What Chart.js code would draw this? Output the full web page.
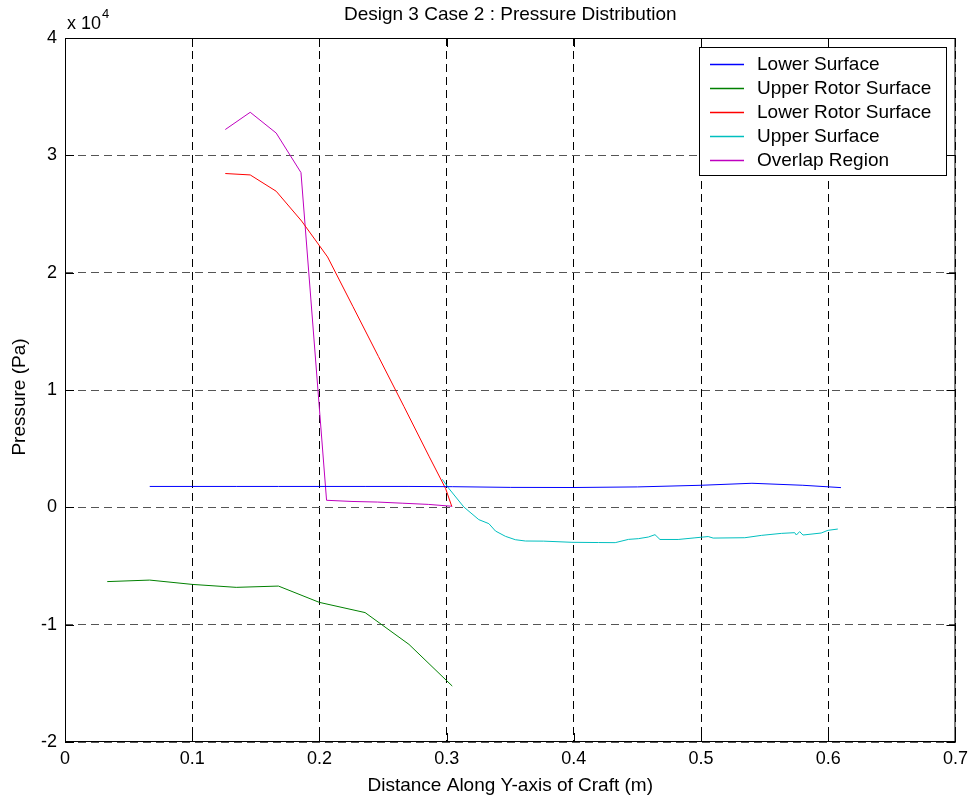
<!DOCTYPE html>
<html>
<head>
<meta charset="utf-8">
<script src="https://cdn.jsdelivr.net/npm/chart.js@4.4.1/dist/chart.umd.min.js"></script>
<style>
  html, body { margin: 0; padding: 0; background: #fff; }
  #wrap { width: 974px; height: 799px; }
</style>
</head>
<body>
<div id="wrap"><canvas id="chart-pressure" width="974" height="799"></canvas></div>
<script>
// Design 3 Case 2 pressure data (Pa)
const lowerX = [0.0666, 0.1001, 0.1346, 0.1678, 0.1999, 0.2359, 0.2704, 0.3044, 0.35, 0.40, 0.45, 0.50, 0.54, 0.58, 0.61];
const lowerY = [1780, 1780, 1780, 1780, 1780, 1780, 1780, 1760, 1700, 1690, 1740, 1880, 2050, 1880, 1680];

const upperRotorX = [0.0332, 0.0666, 0.1001, 0.1346, 0.1678, 0.1999, 0.2359, 0.2704, 0.3044];
const upperRotorY = [-6330, -6200, -6570, -6820, -6710, -8100, -8970, -11680, -15230];

const lowerRotorX = [0.126, 0.1456, 0.166, 0.186, 0.2064, 0.2264, 0.2464, 0.2664, 0.2864, 0.2992, 0.304];
const lowerRotorY = [28450, 28330, 26940, 24400, 21340, 17100, 12850, 8600, 4300, 1600, 90];

const upperX = [0.2966, 0.3018, 0.3135, 0.3253, 0.3332, 0.3384, 0.3462, 0.354, 0.3619, 0.3763, 0.3985, 0.4194, 0.4325,
  0.443, 0.4507, 0.4586, 0.4638, 0.4677, 0.482, 0.4952, 0.5056, 0.5095, 0.5344, 0.5474, 0.5631, 0.5736, 0.5749,
  0.5775, 0.5801, 0.5944, 0.5997, 0.6075];
const upperY = [2390, 1600, 30, -1050, -1390, -2020, -2470, -2760, -2870, -2880, -2980, -3000, -3010,
  -2730, -2670, -2530, -2330, -2740, -2740, -2600, -2490, -2620, -2590, -2390, -2220, -2160, -2360,
  -2070, -2360, -2190, -1960, -1850];

const overlapX = [0.126, 0.1456, 0.166, 0.1855, 0.2056, 0.2256, 0.2456, 0.2656, 0.2856, 0.3044];
const overlapY = [32200, 33670, 31900, 28530, 600, 500, 450, 350, 250, 90];

const xTicks = [0, 0.1, 0.2, 0.3, 0.4, 0.5, 0.6, 0.7];
const yTicks = [-20000, -10000, 0, 10000, 20000, 30000, 40000];

const FONT = '"Liberation Sans", Arial, sans-serif';
const TICK_SIZE = 18;
const TEXT_SIZE = 19;

const pts = (xs, ys) => xs.map((x, i) => ({ x, y: ys[i] }));

function series(label, xs, ys, color) {
  return {
    label,
    data: pts(xs, ys),
    showLine: true,
    borderColor: color,
    backgroundColor: color,
    borderWidth: 1,
    pointRadius: 0,
    tension: 0,
  };
}

// MATLAB style frame: box, inward ticks, exponent label, titles, legend
const matlabFrame = {
  id: 'matlabFrame',
  afterDraw(chart) {
    const { ctx, chartArea: a, scales } = chart;
    ctx.save();
    ctx.strokeStyle = '#000';
    ctx.lineWidth = 1;
    ctx.setLineDash([]);
    ctx.strokeRect(a.left + 0.5, a.top + 0.5, a.right - a.left - 1, a.bottom - a.top - 1);

    ctx.beginPath();
    xTicks.forEach(v => {
      const x = Math.round(scales.x.getPixelForValue(v)) + 0.5;
      ctx.moveTo(x, a.bottom); ctx.lineTo(x, a.bottom - 9);
      ctx.moveTo(x, a.top); ctx.lineTo(x, a.top + 9);
    });
    yTicks.forEach(v => {
      const y = Math.round(scales.y.getPixelForValue(v)) + 0.5;
      ctx.moveTo(a.left, y); ctx.lineTo(a.left + 9, y);
      ctx.moveTo(a.right, y); ctx.lineTo(a.right - 9, y);
    });
    ctx.stroke();

    const cx = (a.left + a.right) / 2;
    ctx.fillStyle = '#000';
    ctx.font = TEXT_SIZE + 'px ' + FONT;
    ctx.textAlign = 'center';
    ctx.textBaseline = 'middle';
    ctx.fillText('Design 3 Case 2 : Pressure Distribution', cx, 15);
    ctx.fillText('Distance Along Y-axis of Craft (m)', cx, 786);

    ctx.save();
    ctx.translate(20, 397);
    ctx.rotate(-Math.PI / 2);
    ctx.fillText('Pressure (Pa)', 0, 0);
    ctx.restore();

    ctx.font = TICK_SIZE + 'px ' + FONT;
    ctx.textAlign = 'left';
    ctx.textBaseline = 'alphabetic';
    ctx.fillText('x 10', a.left + 2, 29);
    const w = ctx.measureText('x 10').width;
    ctx.font = '13px ' + FONT;
    ctx.fillText('4', a.left + 3 + w, 18);

    // legend
    const lx = 699, ly = 47, lw = 247, lh = 128;
    ctx.fillStyle = '#fff';
    ctx.fillRect(lx, ly, lw, lh);
    ctx.strokeStyle = '#000';
    ctx.strokeRect(lx + 0.5, ly + 0.5, lw, lh);
    ctx.font = TEXT_SIZE + 'px ' + FONT;
    ctx.textBaseline = 'middle';
    chart.data.datasets.forEach((ds, i) => {
      const y = Math.round(ly + 17 + i * 24) + 0.5;
      ctx.strokeStyle = ds.borderColor;
      ctx.lineWidth = 1.5;
      ctx.beginPath();
      ctx.moveTo(lx + 11, y);
      ctx.lineTo(lx + 45, y);
      ctx.stroke();
      ctx.fillStyle = '#000';
      ctx.fillText(ds.label, lx + 58, y);
    });
    ctx.restore();
  }
};

new Chart(document.getElementById('chart-pressure'), {
  type: 'scatter',
  data: {
    datasets: [
      series('Lower Surface', lowerX, lowerY, '#0000ff'),
      series('Upper Rotor Surface', upperRotorX, upperRotorY, '#008000'),
      series('Lower Rotor Surface', lowerRotorX, lowerRotorY, '#ff0000'),
      series('Upper Surface', upperX, upperY, '#00bfbf'),
      series('Overlap Region', overlapX, overlapY, '#bf00bf'),
    ]
  },
  options: {
    responsive: false,
    animation: false,
    layout: { padding: { top: 38, right: 16, bottom: 0, left: 0 } },
    plugins: { legend: { display: false }, tooltip: { enabled: false } },
    scales: {
      x: {
        type: 'linear',
        min: 0, max: 0.7,
        afterFit: s => { s.height = 57; },
        afterBuildTicks: s => { s.ticks = xTicks.map(v => ({ value: v })); },
        ticks: { color: '#000', font: { size: TICK_SIZE, family: FONT }, padding: 6, callback: v => String(v) },
        grid: { color: '#000', drawTicks: false, lineWidth: 1 },
        border: { display: false, dash: [8, 5] },
      },
      y: {
        type: 'linear',
        min: -20000, max: 40000,
        afterFit: s => { s.width = 65; },
        afterBuildTicks: s => { s.ticks = yTicks.map(v => ({ value: v })); },
        ticks: { color: '#000', font: { size: TICK_SIZE, family: FONT }, padding: 8, callback: v => String(v / 10000) },
        grid: { color: '#555', drawTicks: false, lineWidth: 1 },
        border: { display: false, dash: [8, 5] },
      }
    }
  },
  plugins: [matlabFrame]
});
</script>
</body>
</html>
